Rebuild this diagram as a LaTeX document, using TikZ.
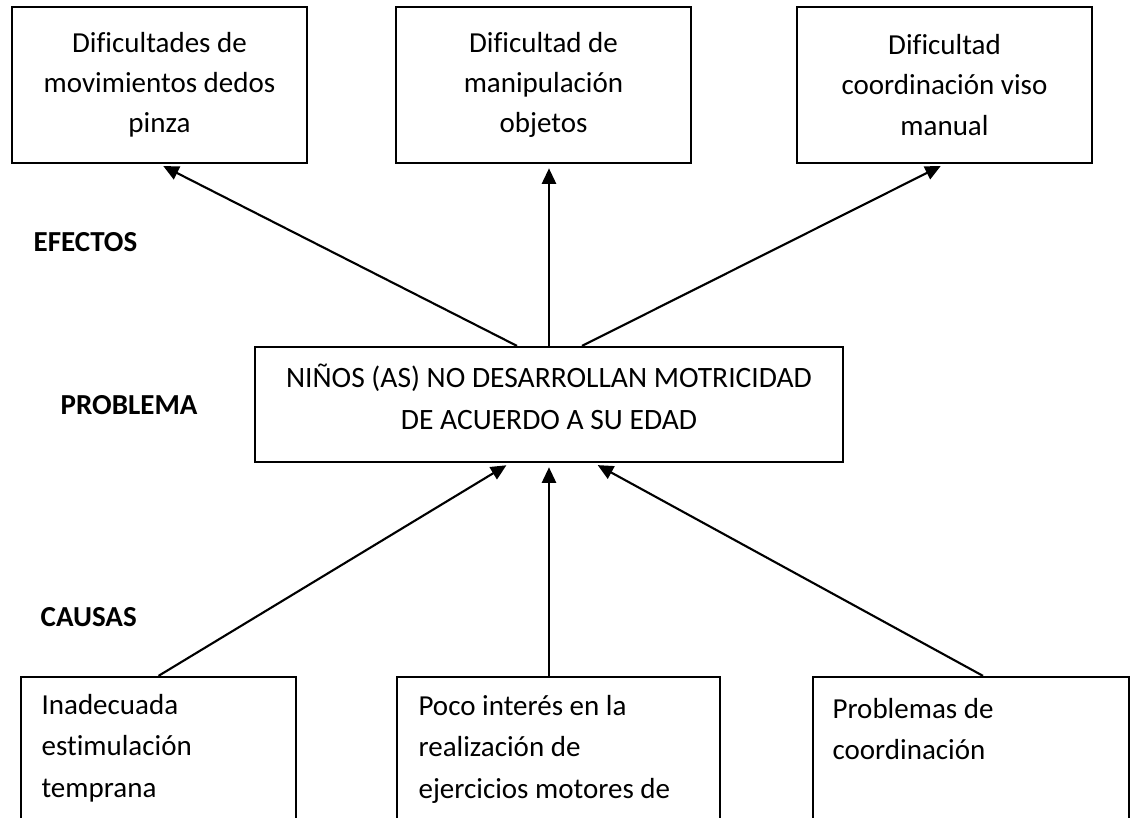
\documentclass[tikz,border=0pt]{standalone}
\usepackage{fontspec}
\setmainfont{Carlito}[Ligatures=NoCommon]
\usepackage{tikz}
\usetikzlibrary{arrows.meta}
\usetikzlibrary{positioning}
\usetikzlibrary{calc}
\tikzstyle{effect}=[draw,rectangle,align=center,line width=0.6pt,minimum width=2.94cm,minimum height=1.56cm,inner sep=0,font=\fontsize{8.25}{11.4}\selectfont]
\tikzstyle{problem}=[draw,rectangle,align=center,line width=0.6pt,minimum width=5.88cm,minimum height=1.15cm,inner sep=0,font=\fontsize{8.4}{12}\selectfont]
\tikzstyle{cause}=[draw,rectangle,line width=0.6pt,minimum height=2.3cm,inner sep=0]
\tikzstyle{causetext}=[anchor=north west,align=left,inner sep=0,font=\fontsize{8.25}{11.7}\selectfont]
\tikzstyle{heading}=[anchor=west,inner sep=0,font=\fontsize{8.25}{10}\selectfont\bfseries]
\tikzstyle{link}=[draw,line width=0.6pt,-{Triangle[length=4.4pt,width=4pt]},shorten >=1.2pt]

\begin{document}
\begin{tikzpicture}[x=0.01cm,y=-0.01cm]
	\useasboundingbox (0,0) rectangle (1130,818);
	\clip (0,0) rectangle (1130,818);

	% efectos
	\node[effect] (ef1) at (159.5,85) {Dificultades de\\movimientos dedos\\pinza};
	\node[effect] (ef2) at (543.5,85) {Dificultad de\\manipulación\\objetos};
	\node[effect] (ef3) at (944.5,85) {Dificultad\\coordinación viso\\manual};

	% problema
	\node[problem,text depth=0.16cm] (prob) at (549,404.5) {NIÑOS (AS) NO DESARROLLAN MOTRICIDAD\\DE ACUERDO A SU EDAD};

	% causas
	\node[cause,minimum width=2.75cm] (ca1) at (158.5,792) {};
	\node[cause,minimum width=3.23cm] (ca2) at (558.5,792) {};
	\node[cause,minimum width=3.16cm] (ca3) at (971,792) {};

	\node[causetext] (ca1t) at ($(ca1.north west)+(21,18)$) {Inadecuada\\estimulación\\temprana};
	\node[causetext] (ca2t) at ($(ca2.north west)+(22,19)$) {Poco interés en la\\realización de\\ejercicios motores de};
	\node[causetext] (ca3t) at ($(ca3.north west)+(20,22)$) {Problemas de\\coordinación};

	\node[heading] (efectos) at (33,242) {EFECTOS};
	\node[heading] (problema) at (60,405) {PROBLEMA};
	\node[heading] (causas) at (40,617) {CAUSAS};

	\draw[link] ($(prob.north)+(-32,0)$) -- (ef1.south);
	\draw[link] (prob.north) -- (prob.north |- ef2.south);
	\draw[link] ($(prob.north)+(33,0)$) -- (ef3.south);

	\draw[link] (ca1.north) -- ($(prob.south)+(-39,0)$);
	\draw[link] (ca2.north -| prob.south) -- (prob.south);
	\draw[link] ($(ca3.north)+(12,0)$) -- ($(prob.south)+(45,0)$);

\end{tikzpicture}
\end{document}
